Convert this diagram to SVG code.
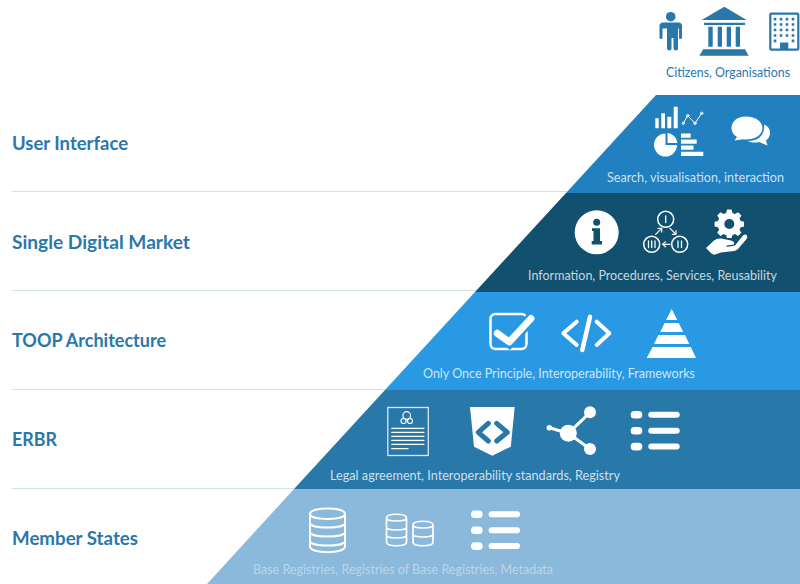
<svg xmlns="http://www.w3.org/2000/svg" width="800" height="584" viewBox="0 0 800 584">
<style>
.t{font-family:"Lato","Noto Sans","Liberation Sans",sans-serif;font-size:19px;font-weight:700;fill:#2a77aa}
.c{font-family:"Lato","Noto Sans","Liberation Sans",sans-serif;font-size:12.5px;fill:#fff;fill-opacity:.78}
.w{fill:#fff}
.s{fill:none;stroke:#fff;stroke-linecap:round;stroke-linejoin:round}
.b{fill:#2a77aa}
.sep{stroke:#d3e2e8;stroke-width:1;fill:none}
</style>
<defs>
<g id="list"><rect x="0" y="0" width="11.6" height="7.6" rx="3.6"/><rect x="0" y="16" width="11.6" height="7.6" rx="3.6"/><rect x="0" y="31.800" width="11.6" height="7.6" rx="3.6"/><rect x="17.600" y="0.800" width="31.400" height="6" rx="3"/><rect x="17.600" y="16.800" width="31.400" height="6" rx="3"/><rect x="17.600" y="32.600" width="31.400" height="6" rx="3"/></g>
</defs>
<g id="top-actors">
<circle class="b" cx="670.700" cy="16.700" r="4.800"/>
<path class="b" d="M663 22.500H678.500Q682 22.500 682 26V37.500Q682 39 680.500 39T679 37.500V28.500H678V48.500Q678 50.500 676 50.500T673.500 48.500V38H671.500V48.500Q671.500 50.500 669.500 50.500T667 48.500V28.500H662.500V37.500Q662.500 39 661 39T659.500 37.500V26Q659.500 22.500 663 22.500Z"/>
<path class="b" d="M724.300 6.700L746.700 20H701.700ZM704 22.700H745V25H704ZM708.300 26.700H712.700V46.700H708.300ZM717.700 26.700H722V46.700H717.700ZM726.700 26.700H731V46.700H726.700ZM735.700 26.700H740V46.700H735.700ZM703.300 49.300H745L748.700 55.700H699.300Z"/>
<rect x="770.300" y="13.700" width="28" height="36" rx="1" fill="none" stroke="#2a77aa" stroke-width="2.200"/>
<path class="b" d="M773.700 17.800h2.600v2.600h-2.600zM779.700 17.800h2.600v2.600h-2.600zM785.700 17.800h2.600v2.600h-2.600zM791.700 17.800h2.600v2.600h-2.600zM773.700 23.200h2.600v2.600h-2.600zM779.700 23.200h2.600v2.600h-2.600zM785.700 23.200h2.600v2.600h-2.600zM791.700 23.200h2.600v2.600h-2.600zM773.700 28.700h2.600v2.600h-2.600zM779.700 28.700h2.600v2.600h-2.600zM785.700 28.700h2.600v2.600h-2.600zM791.700 28.700h2.600v2.600h-2.600zM773.700 34.200h2.600v2.600h-2.600zM779.700 34.200h2.600v2.600h-2.600zM785.700 34.200h2.600v2.600h-2.600zM791.700 34.200h2.600v2.600h-2.600zM773.700 39.600h2.600v2.600h-2.600zM791.700 39.600h2.600v2.600h-2.600zM780 42.500h8.300v7h-8.300z"/>
<text x="666" y="77" font-family="Lato,'Noto Sans',sans-serif" font-size="12.500" fill="#2a77aa" textLength="124" lengthAdjust="spacingAndGlyphs">Citizens, Organisations</text>
</g>
<g id="layer-member-states">
<polygon points="294,489 800,489 800,584 207,584" fill="#8bb9db"/>
<g class="s" stroke-width="2">
<path d="M310 514C310 506.500 345 506.500 345 514V546.500C345 554 310 554 310 546.500Z"/><path d="M310 514C310 520.500 345 520.500 345 514M310 523C310 529 345 529 345 523M310 532C310 538 345 538 345 532M310 541C310 547 345 547 345 541"/>
<path stroke-width="1.700" d="M386.500 518C386.500 513 406.500 513 406.500 518V542C406.500 547 386.500 547 386.500 542ZM386.500 518C386.500 522 406.500 522 406.500 518M386.500 527C386.500 531 406.500 531 406.500 527M386.500 535C386.500 539 406.500 539 406.500 535"/>
<path stroke-width="1.700" d="M413 525C413 520 433 520 433 525V542C433 547 413 547 413 542ZM413 525C413 529 433 529 433 525M413 534C413 538 433 538 433 534"/>
</g>
<use href="#list" x="471" y="510.500" class="w"/>
<text class="c" x="253" y="574" textLength="300" lengthAdjust="spacingAndGlyphs" style="fill-opacity:.42">Base Registries, Registries of Base Registries, Metadata</text>
</g>
<g id="layer-erbr">
<polygon points="385,390 800,390 800,489 294,489" fill="#2878aa"/>
<rect x="387.800" y="407.500" width="40.500" height="48" fill="none" stroke="#d9e8f2" stroke-width="1.300"/>
<g class="s" stroke-width="1.200"><path d="M391.700 428.300H424M391.700 432.300H424M391.700 436.300H424M391.700 440.300H424M391.700 444.300H424M391.700 448.700H408"/><circle cx="406.700" cy="415.500" r="3.800"/><circle cx="403.500" cy="421" r="2.500"/><circle cx="410" cy="421" r="2.500"/></g>
<path class="w" d="M470 407H514.700L510.800 446.700L492.300 455.700L474 446.700Z"/>
<path d="M488.300 423.300L478.300 432.300L488.300 441M496.700 423.300L507.300 432.300L496.700 441" fill="none" stroke="#2878aa" stroke-width="5" stroke-linecap="round" stroke-linejoin="round"/>
<path class="s" stroke-width="3" d="M549.300 427.700L568.300 433.300L590 412.300M568.300 433.300L590 449"/>
<circle class="w" cx="568.300" cy="433.300" r="8.500"/><circle class="w" cx="590" cy="412.300" r="6"/><circle class="w" cx="590" cy="449" r="6"/><circle class="w" cx="549.300" cy="427.700" r="2.700"/>
<use href="#list" x="630.700" y="411" class="w"/>
<text class="c" x="330" y="480" textLength="290" lengthAdjust="spacingAndGlyphs">Legal agreement, Interoperability standards, Registry</text>
</g>
<g id="layer-toop">
<polygon points="475,292 800,292 800,390 385,390" fill="#2899e2"/>
<rect x="490.500" y="314" width="36" height="35" rx="5" fill="none" stroke="#fff" stroke-width="2.500"/>
<path d="M497.300 333.300L509.300 342L532 317.700" fill="none" stroke="#2899e2" stroke-width="12"/>
<path class="s" stroke-width="7" d="M497.300 333.300L509.300 342L531 318.500"/>
<path class="s" stroke-width="4" d="M576.700 321.700L563.300 333.300L576.700 345M596.700 321.700L609.300 333.300L596.700 345"/>
<path class="s" stroke-width="4.500" stroke-linecap="butt" d="M590 316.700L582.300 350"/>
<path class="w" d="M671.700 309L677.300 320H666.100ZM678.800 323 683.200 332H660.200L664.600 323ZM685 335 689.300 344H654L658.400 335ZM690.800 347 696 358H646.700L652.600 347Z"/>
<text class="c" x="423" y="378" textLength="272" lengthAdjust="spacingAndGlyphs">Only Once Principle, Interoperability, Frameworks</text>
</g>
<g id="layer-digital-market">
<polygon points="566,193 800,193 800,292 475,292" fill="#12506f"/>
<circle class="w" cx="596.700" cy="232.300" r="22"/>
<circle cx="596.700" cy="222.300" r="3.500" fill="#12506f"/>
<path d="M592 228.300H600V241H602V244.500H591.700V241H593.500V231H592Z" fill="#12506f"/>
<g class="s" stroke-width="1.500"><circle cx="665.700" cy="219.300" r="8"/><circle cx="679.700" cy="244.300" r="8"/><circle cx="651.700" cy="244.300" r="8"/>
<path stroke-width="1.300" d="M665.700 216V222.500M678 241V247.500M681.500 241V247.500M648.500 241V247.500M651.700 241V247.500M655 241V247.500"/>
<path stroke-width="1.200" d="M655.700 234.300L661.700 228.300M658 228.300H661.700V232M670 228.300L676 234.300M676 230.500V234.300H672.300M670 244.300H662.700M665.500 241.800L662.700 244.300L665.500 246.800"/></g>
<path class="w" fill-rule="evenodd" d="M727 209.500H731.600L732.400 213L735 214.100L738.100 212.200L741.400 215.500L739.500 218.500L740.600 221L744 221.800V226.400L740.600 227.200L739.500 229.700L741.400 232.700L738.100 236L735 234.100L732.400 235.200L731.600 238H727L726.200 235.200L723.600 234.100L720.500 236L717.200 232.700L719.100 229.700L718 227.200L714.600 226.400V221.800L718 221L719.100 218.500L717.200 215.500L720.500 212.200L723.600 214.100L726.200 213ZM729.300 219A5 5 0 1 0 729.300 229A5 5 0 1 0 729.300 219Z"/>
<path class="w" d="M706 248L714 240.500Q717 238 721 238.500L731 240.500Q735 241.500 734 244.500L727 245.500L726.500 247L735 245.500L743 235.500Q745.500 233.500 747 235.500Q748 237 746.500 239L738 249Q736.500 250.500 734 251L721 252.500L715 254.500Q713 255 711.500 253.500Z"/>
<text class="c" x="528" y="280" textLength="249" lengthAdjust="spacingAndGlyphs">Information, Procedures, Services, Reusability</text>
</g>
<g id="layer-user-interface">
<polygon points="656,95 800,95 800,193 566,193" fill="#2080c0"/>
<path class="w" d="M655.300 118.300H658.700V128.300H655.300ZM661.300 113.300H665V128.300H661.300ZM667.300 116.700H671.300V128.300H667.300ZM673.700 106.700H677.700V128.300H673.700Z"/>
<g class="s" stroke-width="1"><path d="M683.300 123.300L687.700 115.700L695 123.300L701.700 113.300"/><circle cx="683.300" cy="123.300" r="1.200"/><circle cx="687.700" cy="115.700" r="1.200"/><circle cx="695" cy="123.300" r="1.200"/><circle cx="701.700" cy="113.300" r="1.200"/></g>
<path class="w" d="M665.500 133.500V145H677A11.500 11.500 0 1 1 665.500 133.500ZM667.500 133A11 11 0 0 1 677.500 143H667.500Z"/>
<path class="w" d="M681 133.500H690.700V137.700H681ZM681 139.500H696.700V143.700H681ZM681 145.500H693.500V149.700H681ZM681 151.700H703.300V156H681Z"/>
<path class="w" d="M746 116.500C736.500 116.500 731.500 122 731.500 128C731.500 132 733.500 135 737 137L734.500 140.500L743 139.300C751 140.500 762.500 137 762.500 128C762.500 122 756 116.500 746 116.500Z"/>
<path class="w" d="M764 124.500C769 126.500 770 130 770 133C770 136.500 768 139 766 140.500L767.500 145.500L759 142C755 143 750 142.500 748 141C756 141.500 765.500 136.500 764 124.500Z"/>
<text class="c" x="607" y="182" textLength="177" lengthAdjust="spacingAndGlyphs">Search, visualisation, interaction</text>
</g>
<g id="separators">
<path class="sep" d="M12 191.500H567M12 290.500H476M12 389.500H385M12 488.500H294"/>
</g>
<g id="labels">
<text class="t" x="12" y="150" textLength="116" lengthAdjust="spacingAndGlyphs">User Interface</text>
<text class="t" x="12" y="249" textLength="178" lengthAdjust="spacingAndGlyphs">Single Digital Market</text>
<text class="t" x="12" y="347" textLength="154" lengthAdjust="spacingAndGlyphs">TOOP Architecture</text>
<text class="t" x="12" y="446" textLength="45" lengthAdjust="spacingAndGlyphs">ERBR</text>
<text class="t" x="12" y="545" textLength="126" lengthAdjust="spacingAndGlyphs">Member States</text>
</g>
</svg>
